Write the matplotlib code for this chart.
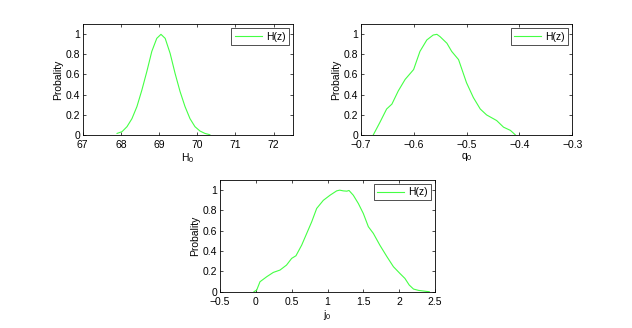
import matplotlib
matplotlib.use("Agg")
import matplotlib.pyplot as plt
import numpy as np

plt.rcParams['font.family'] = ['Liberation Sans', 'DejaVu Sans']
plt.rcParams['mathtext.fontset'] = 'custom'
plt.rcParams['mathtext.rm'] = 'Liberation Sans'
plt.rcParams['mathtext.it'] = 'Liberation Sans'
plt.rcParams['mathtext.default'] = 'regular'

# H0 posterior
h0_x = [67.90, 68.03, 68.16, 68.29, 68.42, 68.55, 68.68, 68.81, 68.94, 69.05,
        69.16, 69.29, 69.42, 69.55, 69.68, 69.81, 69.94, 70.07, 70.20, 70.33]
h0_y = [0.013, 0.03, 0.08, 0.16, 0.28, 0.445, 0.63, 0.83, 0.96, 1.0,
        0.96, 0.81, 0.61, 0.43, 0.28, 0.16, 0.08, 0.037, 0.013, 0.0]

# q0 posterior
q0_x = [-0.676, -0.6635, -0.651, -0.641, -0.629, -0.616, -0.600, -0.588, -0.575,
        -0.563, -0.556, -0.550, -0.537, -0.528, -0.515, -0.500, -0.487, -0.474,
        -0.462, -0.443, -0.430, -0.417, -0.408]
q0_y = [0.0, 0.125, 0.256, 0.305, 0.436, 0.551, 0.649, 0.83, 0.944,
        0.993, 1.0, 0.977, 0.911, 0.83, 0.748, 0.518, 0.37, 0.256,
        0.197, 0.141, 0.075, 0.043, 0.0]

# j0 posterior
j0_x = [-0.026, 0.012, 0.058, 0.153, 0.244, 0.337, 0.428, 0.50, 0.56, 0.64,
        0.71, 0.78, 0.849, 0.942, 1.035, 1.128, 1.17, 1.22, 1.27, 1.30,
        1.36, 1.43, 1.50, 1.57, 1.64, 1.73, 1.83, 1.92, 2.01, 2.08,
        2.14, 2.20, 2.27, 2.38, 2.42]
j0_y = [0.0, 0.016, 0.098, 0.148, 0.19, 0.213, 0.262, 0.328, 0.354, 0.459,
        0.574, 0.689, 0.82, 0.9, 0.95, 0.993, 1.0, 0.993, 0.99, 0.997,
        0.95, 0.869, 0.77, 0.64, 0.574, 0.459, 0.344, 0.246, 0.18, 0.131,
        0.066, 0.026, 0.013, 0.003, 0.0]

xlabels = ['H$_0$', 'q$_0$', 'j$_0$']
xlims = [(67, 72.5), (-0.7, -0.3), (-0.5, 2.5)]
xticks = [[67, 68, 69, 70, 71, 72],
          [-0.7, -0.6, -0.5, -0.4, -0.3],
          [-0.5, 0, 0.5, 1, 1.5, 2, 2.5]]
xticklabels = [['67', '68', '69', '70', '71', '72'],
               ['\u22120.7', '\u22120.6', '\u22120.5', '\u22120.4', '\u22120.3'],
               ['\u22120.5', '0', '0.5', '1', '1.5', '2', '2.5']]
yticks = [0, 0.2, 0.4, 0.6, 0.8, 1]
yticklabels = ['0', '0.2', '0.4', '0.6', '0.8', '1']
legend_label = 'H(z)'
ylabel = 'Probality'

fig = plt.figure(figsize=(6.32, 3.28), dpi=100)
positions = [
    [82.7 / 632, (328 - 134.7) / 328, 210 / 632, 110.4 / 328],
    [360.7 / 632, (328 - 134.7) / 328, 211.6 / 632, 110.4 / 328],
    [220 / 632, (328 - 291.7) / 328, 215 / 632, 111.7 / 328],
]
data = [(h0_x, h0_y), (q0_x, q0_y), (j0_x, j0_y)]
fs = 7.5
for i, pos in enumerate(positions):
    ax = fig.add_axes(pos)
    x, y = data[i]
    ax.plot(x, y, color='#44ff44', lw=0.8, label=legend_label)
    ax.set_xlim(*xlims[i])
    ax.set_ylim(0, 1.1)
    ax.set_xticks(xticks[i])
    ax.set_xticklabels(xticklabels[i], fontsize=fs)
    ax.set_yticks(yticks)
    ax.set_yticklabels(yticklabels, fontsize=fs)
    ax.tick_params(direction='in', length=2.5, width=0.5, top=True, right=True, pad=2)
    ax.tick_params(axis='x', pad=3.5)
    for s in ax.spines.values():
        s.set_linewidth(0.6)
    ax.set_xlabel(xlabels[i], fontsize=fs, labelpad=1)
    ax.set_ylabel(ylabel, fontsize=fs, labelpad=2)
    leg = ax.legend(loc='upper right', fontsize=fs, fancybox=False, frameon=True,
                    handlelength=2.6, borderpad=0.3, borderaxespad=0.4,
                    handletextpad=0.4)
    leg.get_frame().set_edgecolor('black')
    leg.get_frame().set_linewidth(0.6)

fig.savefig('out.png', dpi=100)
